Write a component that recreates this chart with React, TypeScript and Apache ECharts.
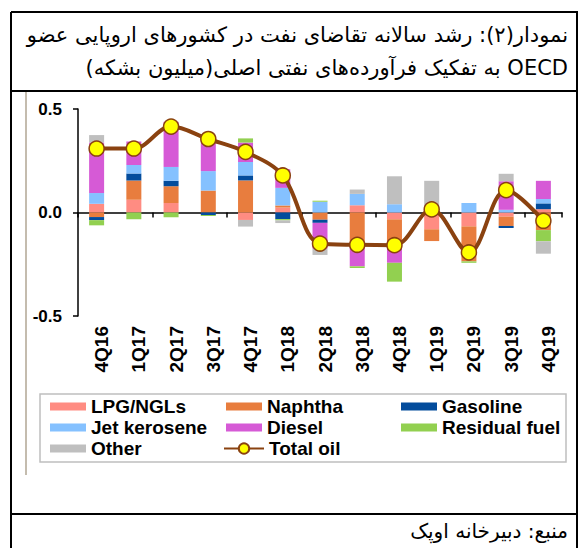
import React, { useEffect, useRef } from 'react';
import * as echarts from 'echarts';

const categories = ['4Q16', '1Q17', '2Q17', '3Q17', '4Q17', '1Q18', '2Q18', '3Q18', '4Q18', '1Q19', '2Q19', '3Q19', '4Q19'];

const lpgNgls = [0.042, 0.062, 0.046, 0, -0.036, 0.024, 0, 0.035, -0.033, -0.081, -0.067, -0.02, 0.016];
const naphtha = [-0.022, 0.093, 0.081, 0.106, 0.155, 0.01, -0.035, -0.145, -0.12, -0.057, -0.169, -0.045, -0.085];
const gasoline = [-0.015, 0.033, 0.026, -0.012, 0.024, -0.032, -0.015, 0, 0, 0, 0, -0.01, 0.028];
const jetKerosene = [0.052, 0.042, 0.067, 0.094, 0.065, 0.085, 0.052, 0.055, 0.04, 0, 0.046, 0.013, 0.021];
const diesel = [0.244, 0.113, 0.218, 0.17, 0.094, 0.09, -0.125, -0.115, -0.09, 0, 0, 0.138, 0.088];
const residualFuel = [-0.025, -0.033, -0.023, -0.005, 0.02, -0.006, 0.005, -0.008, -0.091, 0, -0.007, 0, -0.054];
const other = [0.036, 0, 0, 0, -0.032, -0.013, -0.03, 0.021, 0.135, 0.153, 0, 0.036, -0.06];
const totalOil = [0.309, 0.309, 0.415, 0.355, 0.293, 0.179, -0.15, -0.156, -0.158, 0.015, -0.193, 0.108, -0.04];

const yTicks = [-0.5, 0, 0.5];

const titleLine1 = 'نمودار(۲): رشد سالانه تقاضای نفت در کشورهای اروپایی عضو';
const titleLine2 = '\u202BOECD به تفکیک فرآورده‌های نفتی اصلی(میلیون بشکه)\u202C';
const sourceText = 'منبع: دبیرخانه اوپک';

const LATIN = '"Liberation Sans", Arial, sans-serif';
const PERSIAN = '"DejaVu Sans", sans-serif';

export default function App() {
  const ref = useRef<HTMLDivElement>(null);
  useEffect(() => {
    if (!ref.current) return;
    const chart = echarts.init(ref.current, null, { renderer: 'svg' });
    const barDefs: [string, number[], string][] = [
      ['LPG/NGLs', lpgNgls, '#FF8C82'],
      ['Naphtha', naphtha, '#E87D3E'],
      ['Gasoline', gasoline, '#034C9C'],
      ['Jet kerosene', jetKerosene, '#85C1FF'],
      ['Diesel', diesel, '#D65AD6'],
      ['Residual fuel', residualFuel, '#92D050'],
      ['Other', other, '#BFBFBF'],
    ];
    const bars = barDefs.map(([name, data, color]) => ({
      name,
      type: 'bar',
      stack: 'products',
      data,
      barWidth: 15,
      xAxisIndex: 0,
      yAxisIndex: 0,
      itemStyle: { color },
    }));
    const legendText = { fontSize: 19, fontWeight: 'bold', fontFamily: LATIN, color: '#000', lineHeight: 21 };
    const legendBase = {
      orient: 'vertical',
      itemWidth: 36,
      itemHeight: 8,
      itemGap: 0,
      icon: 'rect',
      padding: 0,
      selectedMode: false,
      textStyle: legendText,
    };
    const line = (x1: number, y1: number, x2: number, y2: number, stroke = '#000', w = 2) => ({
      type: 'line',
      shape: { x1, y1, x2, y2 },
      style: { stroke, lineWidth: w },
      silent: true,
    });
    chart.setOption({
      animation: false,
      backgroundColor: '#fff',
      grid: [
        { left: 78, right: 16, top: 109, bottom: 232, containLabel: false },
        { left: 83, right: 11, top: 109, bottom: 232, containLabel: false },
      ],
      xAxis: [
        {
          type: 'category',
          gridIndex: 0,
          data: categories,
          axisLine: { onZero: true, lineStyle: { color: '#000', width: 1.5 } },
          axisTick: { show: true, length: 5, lineStyle: { color: '#000', width: 1.5 } },
          axisLabel: { show: false },
          splitLine: { show: false },
        },
        {
          type: 'category',
          gridIndex: 1,
          data: categories,
          position: 'bottom',
          axisLine: { show: false, onZero: false },
          axisTick: { show: false },
          splitLine: { show: false },
          axisLabel: {
            rotate: 90,
            margin: 10,
            fontSize: 19,
            fontWeight: 'bold',
            fontFamily: LATIN,
            color: '#000',
            interval: 0,
          },
        },
      ],
      yAxis: [
        {
          type: 'value',
          gridIndex: 0,
          min: yTicks[0],
          max: yTicks[yTicks.length - 1],
          interval: 0.5,
          axisLine: { show: true, lineStyle: { color: '#000', width: 1.5 } },
          axisTick: { show: true, length: 5, lineStyle: { color: '#000', width: 1.5 } },
          splitLine: { show: false },
          axisLabel: {
            formatter: (v: number) => v.toFixed(1),
            fontSize: 17,
            fontWeight: 'bold',
            fontFamily: LATIN,
            color: '#000',
            margin: 16,
          },
        },
        {
          type: 'value',
          gridIndex: 1,
          min: yTicks[0],
          max: yTicks[yTicks.length - 1],
          show: false,
        },
      ],
      legend: [
        { ...legendBase, left: 50, top: 396, data: ['LPG/NGLs', 'Jet kerosene', 'Other'] },
        { ...legendBase, left: 226, top: 396, data: ['Naphtha', 'Diesel'] },
        { ...legendBase, left: 401, top: 396, data: ['Gasoline', 'Residual fuel'] },
        {
          orient: 'vertical',
          itemWidth: 40,
          itemHeight: 13,
          padding: 0,
          selectedMode: false,
          left: 223,
          top: 438,
          textStyle: legendText,
          data: ['Total oil'],
        },
      ],
      series: [
        ...bars,
        {
          name: 'Total oil',
          type: 'line',
          data: totalOil,
          xAxisIndex: 0,
          yAxisIndex: 0,
          smooth: 0.35,
          symbol: 'circle',
          symbolSize: 15,
          z: 5,
          lineStyle: { color: '#8A4210', width: 4 },
          itemStyle: { color: '#FFFF00', borderColor: '#8A4210', borderWidth: 1.5 },
        },
      ],
      graphic: [
        line(11, 12, 578, 12),
        line(11, 12, 11, 548),
        line(577, 12, 577, 548),
        line(11, 91, 578, 91),
        line(11, 514, 578, 514),
        line(26, 92, 26, 475, '#C4BCAE', 2),
        {
          type: 'rect',
          shape: { x: 40, y: 394, width: 526, height: 68 },
          style: { fill: 'none', stroke: '#BFBFBF', lineWidth: 1.5 },
          silent: true,
        },
        {
          type: 'text',
          x: 568,
          y: 35,
          style: { text: titleLine1, fill: '#000', font: `21px ${PERSIAN}`, align: 'right', verticalAlign: 'middle' },
        },
        {
          type: 'text',
          x: 568,
          y: 68,
          style: { text: titleLine2, fill: '#000', font: `21px ${PERSIAN}`, align: 'right', verticalAlign: 'middle' },
        },
        {
          type: 'text',
          x: 568,
          y: 531,
          style: { text: sourceText, fill: '#000', font: `20px ${PERSIAN}`, align: 'right', verticalAlign: 'middle' },
        },
      ],
    });
    return () => chart.dispose();
  }, []);
  return <div ref={ref} style={{ position: 'fixed', left: 0, top: 0, width: 578, height: 548 }} />;
}
